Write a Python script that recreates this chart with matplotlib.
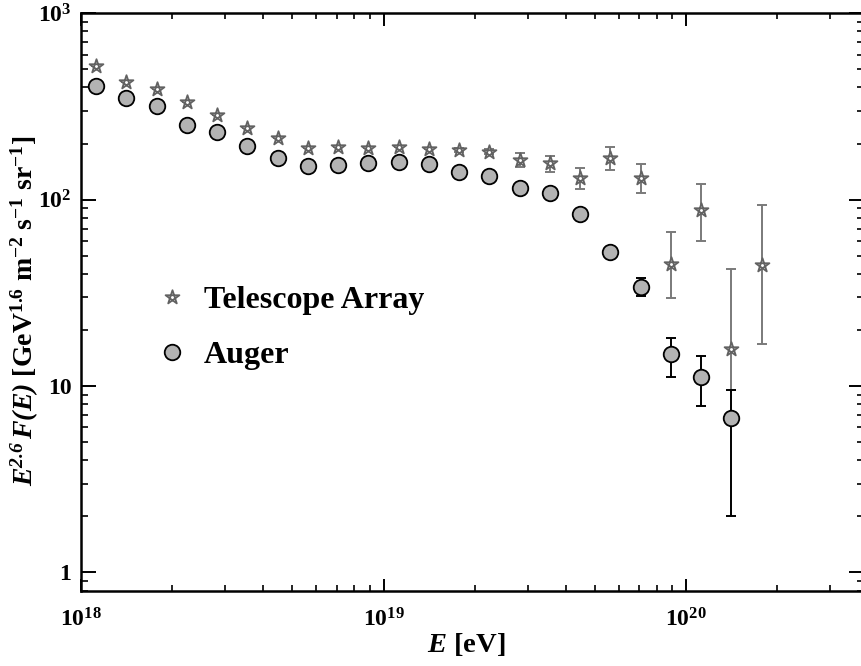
import numpy as np
import matplotlib
matplotlib.use("Agg")
import matplotlib.pyplot as plt
from matplotlib.path import Path
from matplotlib.ticker import LogLocator, FuncFormatter, NullFormatter

# ---- data -------------------------------------------------------------
# bin centres, log10(E / eV)
log_energy = [18.05, 18.15, 18.25, 18.35, 18.45, 18.55, 18.65, 18.75, 18.85,
              18.95, 19.05, 19.15, 19.25, 19.35, 19.45, 19.55, 19.65, 19.75,
              19.85, 19.95, 20.05, 20.15, 20.25]

# Telescope Array: E^2.6 F(E) and error band
ta_flux = [521, 429, 392, 335, 285, 243, 213, 190, 192, 189, 192, 187, 185,
           181, 163, 158, 131, 167, 131, 45.0, 87.9, 15.9, 44.6]
ta_high = [521, 429, 392, 335, 285, 243, 213, 190, 192, 189, 192, 187, 190,
           187, 178, 171, 148, 191, 155, 66.8, 121, 42.3, 93.5]
ta_low = [521, 429, 392, 335, 285, 243, 213, 190, 192, 189, 192, 187, 180,
          175, 150, 140, 114, 144, 108, 29.7, 59.9, 9.5, 16.9]

# Pierre Auger Observatory
auger_flux = [407, 350, 318, 251, 231, 194, 167, 152, 153, 157, 159, 155,
              141, 134, 115, 108, 83.7, 52.1, 34.1, 14.8, 11.2, 6.7]
auger_high = [407, 350, 318, 251, 231, 194, 167, 152, 153, 157, 159, 155,
              141, 134, 115, 108, 83.7, 52.1, 38.1, 18.2, 14.5, 9.5]
auger_low = [407, 350, 318, 251, 231, 194, 167, 152, 153, 157, 159, 155,
             141, 134, 115, 108, 83.7, 52.1, 30.4, 11.2, 7.83, 2.01]

series_labels = ["Telescope Array", "Auger"]

# ---- style ------------------------------------------------------------
plt.rcParams.update({
    "font.family": "Liberation Serif",
    "font.weight": "bold",
    "axes.labelweight": "bold",
    "mathtext.fontset": "custom",
    "mathtext.rm": "Liberation Serif:bold",
    "mathtext.bf": "Liberation Serif:bold",
    "mathtext.it": "Liberation Serif:bold:italic",
    "mathtext.bfit": "Liberation Serif:bold:italic",
})

# pentagram marker: outer star outline with the inner pentagon visible
ang = np.deg2rad(90 + 144 * np.arange(5))
verts = np.column_stack([np.cos(ang), np.sin(ang)])
verts = np.vstack([verts, verts[:1]])
codes = [Path.MOVETO] + [Path.LINETO] * 4 + [Path.CLOSEPOLY]
star = Path(verts, codes)

fig = plt.figure(figsize=(8.62, 6.66), dpi=100)
ax = fig.add_axes([81 / 862, 75.5 / 666, 783 / 862, 577.2 / 666])

E_ta = 10.0 ** np.array(log_energy)
E_au = E_ta[:len(auger_flux)]

ta_flux = np.array(ta_flux)
auger_flux = np.array(auger_flux)

star_edge = "#626262"
ta_err = [ta_flux - np.array(ta_low), np.array(ta_high) - ta_flux]
ax.errorbar(E_ta, ta_flux, yerr=ta_err, fmt="none", ecolor="#7a7a7a",
            elinewidth=1.4, capsize=3.5, capthick=1.4, zorder=2)
ax.plot(E_ta, ta_flux, linestyle="none", marker=star, markersize=10.5,
        markerfacecolor="white", markeredgecolor=star_edge,
        markeredgewidth=1.3, zorder=3, label=series_labels[0])

au_err = [auger_flux - np.array(auger_low), np.array(auger_high) - auger_flux]
ax.errorbar(E_au, auger_flux, yerr=au_err, fmt="none", ecolor="black",
            elinewidth=1.4, capsize=3.5, capthick=1.4, zorder=4)
ax.plot(E_au, auger_flux, linestyle="none", marker="o", markersize=11.2,
        markerfacecolor="#b3b3b3", markeredgecolor="black",
        markeredgewidth=1.3, zorder=5, label=series_labels[1])

ax.set_xscale("log")
ax.set_yscale("log")
ax.set_xlim(1e18, 10 ** (18 + 783 / 302.5))
ax.set_ylim(0.8, 1000)

for sp in ax.spines.values():
    sp.set_linewidth(1.8)

ax.xaxis.set_major_locator(LogLocator(base=10, numticks=20))
ax.xaxis.set_minor_locator(LogLocator(base=10, subs=np.arange(2, 10), numticks=20))
ax.yaxis.set_major_locator(LogLocator(base=10, numticks=20))
ax.yaxis.set_minor_locator(LogLocator(base=10, subs=np.arange(2, 10), numticks=20))


def xfmt(v, pos):
    return r"$\mathbf{10^{%d}}$" % int(round(np.log10(v)))


def yfmt(v, pos):
    p = int(round(np.log10(v)))
    if p == 0:
        return "1"
    if p == 1:
        return "10"
    return r"$\mathbf{10^{%d}}$" % p


ax.xaxis.set_major_formatter(FuncFormatter(xfmt))
ax.yaxis.set_major_formatter(FuncFormatter(yfmt))
ax.xaxis.set_minor_formatter(NullFormatter())
ax.yaxis.set_minor_formatter(NullFormatter())

ax.tick_params(axis="both", which="both", direction="in", top=True, right=True)
ax.tick_params(axis="x", which="major", length=9, width=1.4, labelsize=17, pad=13)
ax.tick_params(axis="x", which="minor", length=4.5, width=1.2)
ax.tick_params(axis="y", which="major", length=11, width=1.4, labelsize=17, pad=7)
ax.tick_params(axis="y", which="minor", length=5, width=1.2)

ax.set_xlabel(r"$\mathbfit{E}$ [eV]", fontsize=20.5)
ax.xaxis.set_label_coords(0.492, -0.070)
ax.set_ylabel(r"$\mathbfit{E}^{\mathbfit{2.6}}\,\mathbfit{F(E)}$ [GeV$^{\mathbf{1.6}}$ m$^{\mathbf{-2}}$ s$^{\mathbf{-1}}$ sr$^{\mathbf{-1}}$]",
              fontsize=20)
ax.yaxis.set_label_coords(-0.051, 0.485)

leg = ax.legend(loc="center left", bbox_to_anchor=(0.075, 0.455), frameon=False,
                fontsize=23, handlelength=1.0, handletextpad=0.5,
                labelspacing=0.78, borderpad=0.0)

fig.savefig("out.png", dpi=100)
